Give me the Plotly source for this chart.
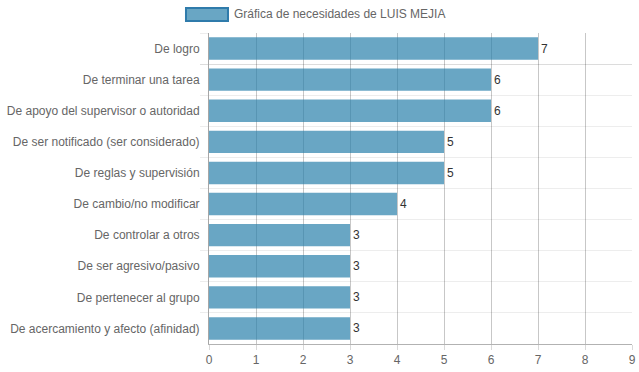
import plotly.graph_objects as go

categories = [
    "De logro",
    "De terminar una tarea",
    "De apoyo del supervisor o autoridad",
    "De ser notificado (ser considerado)",
    "De reglas y supervisión",
    "De cambio/no modificar",
    "De controlar a otros",
    "De ser agresivo/pasivo",
    "De pertenecer al grupo",
    "De acercamiento y afecto (afinidad)",
]
values = [7, 6, 6, 5, 5, 4, 3, 3, 3, 3]
series_name = "Gráfica de necesidades de LUIS MEJIA"
x_ticks = list(range(0, 10))

fig = go.Figure()
fig.add_trace(go.Bar(
    x=values,
    y=categories,
    orientation="h",
    name=series_name,
    marker=dict(color="rgba(42,128,171,0.7)", line=dict(width=0)),
    text=[str(v) for v in values],
    textposition="outside",
    textfont=dict(family="Liberation Sans, Arial, sans-serif", size=12, color="#333"),
    cliponaxis=False,
    showlegend=False,
    hoverinfo="x+y",
))

fig.update_layout(
    width=639,
    height=372,
    margin=dict(l=209, r=7, t=33, b=28, autoexpand=False),
    paper_bgcolor="white",
    plot_bgcolor="white",
    bargap=0.28,
    font=dict(family="Liberation Sans, Arial, sans-serif", size=12, color="#666"),
    xaxis=dict(
        range=[0, 9],
        tickvals=x_ticks,
        automargin=False,
        showgrid=True,
        gridcolor="rgba(0,0,0,0.22)",
        gridwidth=1,
        zeroline=False,
        showline=True,
        linecolor="rgba(0,0,0,0.3)",
        ticks="outside",
        ticklen=5,
        tickcolor="rgba(0,0,0,0.15)",
        tickfont=dict(size=12, color="#666"),
    ),
    yaxis=dict(
        type="category",
        categoryorder="array",
        categoryarray=categories,
        autorange="reversed",
        automargin=False,
        tickson="boundaries",
        showgrid=True,
        gridcolor="rgba(0,0,0,0.07)",
        showline=True,
        linecolor="rgba(0,0,0,0.35)",
        ticks="outside",
        ticklen=8,
        tickcolor="rgba(0,0,0,0.07)",
        ticklabelstandoff=6,
        tickfont=dict(size=12, color="#666"),
        zeroline=False,
    ),
    shapes=[dict(
        type="rect", xref="paper", yref="paper",
        x0=-0.0544, x1=0.0449, y0=1.0386, y1=1.0804,
        fillcolor="rgba(42,128,171,0.7)",
        line=dict(color="#2f7bab", width=2),
    )],
    annotations=[dict(
        text=series_name, xref="paper", yref="paper",
        x=0.054, y=1.0595, xanchor="left", yanchor="middle",
        showarrow=False, font=dict(size=12, color="#666"),
    )],
)

fig.write_html(
    "out.html",
    config={"displayModeBar": False},
    post_script="document.body.style.margin='0';document.body.style.overflow='hidden';",
)
